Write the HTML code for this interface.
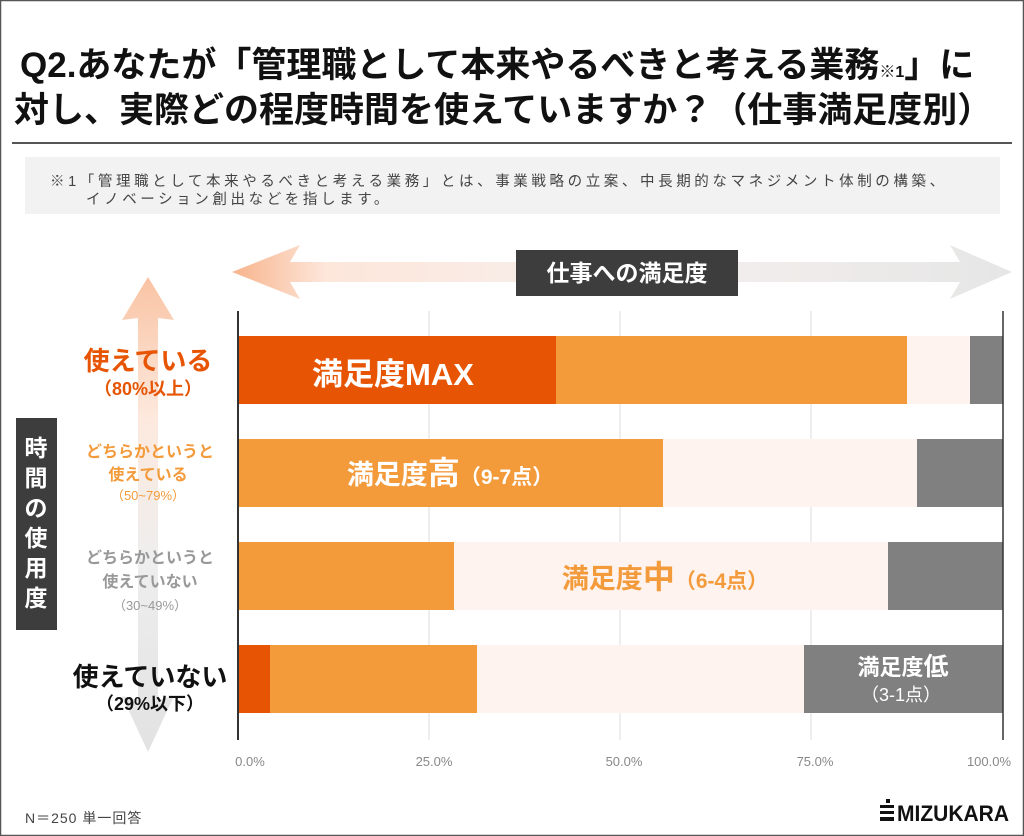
<!DOCTYPE html>
<html><head><meta charset="utf-8"><style>
html,body{margin:0;padding:0;background:#fff}
svg{display:block}
text{font-family:"Liberation Sans","Noto Sans CJK JP",sans-serif}
</style></head><body>
<svg width="1024" height="836" viewBox="0 0 1024 836" xmlns="http://www.w3.org/2000/svg">
<defs>
<linearGradient id="hg" x1="0" x2="1" y1="0" y2="0">
<stop offset="0" stop-color="#f7b48c"/><stop offset="0.12" stop-color="#fde6da"/><stop offset="0.5" stop-color="#f6f0ee"/><stop offset="1" stop-color="#e6e6e6"/></linearGradient>
<linearGradient id="vg" x1="0" x2="0" y1="0" y2="1">
<stop offset="0" stop-color="#f9c3a3"/><stop offset="0.3" stop-color="#fde9de"/><stop offset="0.6" stop-color="#eeeeee"/><stop offset="1" stop-color="#e2e2e2"/></linearGradient>
</defs>
<rect x="0.5" y="0.5" width="1023" height="835" fill="#fff" stroke="#555" stroke-width="1.5"/>
<text x="20" y="77" font-size="35" font-weight="bold" fill="#111">Q2.あなたが「管理職として本来やるべきと考える業務<tspan font-size="16">※1</tspan>」に</text>
<text x="14" y="122" font-size="35" font-weight="bold" fill="#111">対し、実際どの程度時間を使えていますか？（仕事満足度別）</text>
<rect x="12" y="142" width="1000" height="2" fill="#555"/>
<rect x="25" y="157" width="975" height="57" fill="#f2f2f2"/>
<text x="50" y="186" font-size="14.5" fill="#444" letter-spacing="3.6">※1「管理職として本来やるべきと考える業務」とは、事業戦略の立案、中長期的なマネジメント体制の構築、</text>
<text x="86" y="204" font-size="14.5" fill="#444" letter-spacing="3.6">イノベーション創出などを指します。</text>
<polygon points="232,272 300,245 290,262 960,262 950,245 1012,272 950,299 960,282 290,282 300,299" fill="url(#hg)"/>
<rect x="516" y="250" width="222" height="46" fill="#3d3d3d"/>
<text x="627" y="281" font-size="23" fill="#fff" text-anchor="middle" font-weight="bold">仕事への満足度</text>
<polygon points="148,277 174,320 158,318 158,700 174,696 148,752 122,696 138,700 138,318 122,320" fill="url(#vg)"/>
<rect x="16" y="418" width="41" height="212" fill="#3d3d3d"/>
<g font-size="23" fill="#fff" text-anchor="middle" font-weight="bold">
<text x="36" y="456">時</text><text x="36" y="486">間</text><text x="36" y="516">の</text><text x="36" y="546">使</text><text x="36" y="576">用</text><text x="36" y="606">度</text></g>
<text x="148" y="370" font-size="26" font-weight="bold" fill="#e75504" text-anchor="middle">使えている</text>
<text x="148" y="395" font-size="18" font-weight="bold" fill="#e75504" text-anchor="middle">（80%以上）</text>
<text x="150" y="457" font-size="16" font-weight="bold" fill="#f39a3b" text-anchor="middle">どちらかというと</text>
<text x="148" y="480" font-size="16" font-weight="bold" fill="#f39a3b" text-anchor="middle">使えている</text>
<text x="148" y="500" font-size="13" fill="#f39a3b" text-anchor="middle">（50~79%）</text>
<text x="150" y="563" font-size="16" font-weight="bold" fill="#999" text-anchor="middle">どちらかというと</text>
<text x="150" y="587" font-size="16" font-weight="bold" fill="#999" text-anchor="middle">使えていない</text>
<text x="150" y="610" font-size="13" fill="#999" text-anchor="middle">（30~49%）</text>
<text x="150" y="686" font-size="26" font-weight="bold" fill="#111" text-anchor="middle">使えていない</text>
<text x="150" y="710" font-size="18" font-weight="bold" fill="#111" text-anchor="middle">（29%以下）</text>
<g stroke="#ddd" stroke-width="1"><line x1="429" y1="311" x2="429" y2="740"/><line x1="620" y1="311" x2="620" y2="740"/><line x1="811" y1="311" x2="811" y2="740"/></g>
<rect x="238" y="336" width="318" height="68" fill="#e75504"/>
<rect x="556" y="336" width="351" height="68" fill="#f39a3b"/>
<rect x="907" y="336" width="63" height="68" fill="#fef3ee"/>
<rect x="970" y="336" width="33" height="68" fill="#808080"/>
<rect x="238" y="439" width="425" height="68" fill="#f39a3b"/>
<rect x="663" y="439" width="254" height="68" fill="#fef3ee"/>
<rect x="917" y="439" width="86" height="68" fill="#808080"/>
<rect x="238" y="542" width="216" height="68" fill="#f39a3b"/>
<rect x="454" y="542" width="434" height="68" fill="#fef3ee"/>
<rect x="888" y="542" width="115" height="68" fill="#808080"/>
<rect x="238" y="645" width="32" height="68" fill="#e75504"/>
<rect x="270" y="645" width="207" height="68" fill="#f39a3b"/>
<rect x="477" y="645" width="327" height="68" fill="#fef3ee"/>
<rect x="804" y="645" width="199" height="68" fill="#808080"/>
<line x1="238" y1="311" x2="238" y2="740" stroke="#333" stroke-width="2"/>
<line x1="1003" y1="311" x2="1003" y2="740" stroke="#333" stroke-width="1.5"/>
<text x="393" y="385" font-size="31" font-weight="bold" fill="#fff" text-anchor="middle">満足度MAX</text>
<text x="450" y="484" font-size="27" font-weight="bold" fill="#fff" text-anchor="middle">満足度<tspan font-size="32">高</tspan><tspan font-size="21">（9-7点）</tspan></text>
<text x="665" y="588" font-size="27" font-weight="bold" fill="#f39a3b" text-anchor="middle">満足度<tspan font-size="32">中</tspan><tspan font-size="21">（6-4点）</tspan></text>
<text x="903" y="675" font-size="22" font-weight="bold" fill="#fff" text-anchor="middle">満足度<tspan font-size="25">低</tspan></text>
<text x="901" y="701" font-size="18" fill="#fff" text-anchor="middle">（3-1点）</text>
<g font-size="13" fill="#888" text-anchor="middle">
<text x="250" y="766">0.0%</text><text x="434" y="766">25.0%</text><text x="624" y="766">50.0%</text><text x="815" y="766">75.0%</text><text x="989" y="766">100.0%</text></g>
<text x="25" y="823" font-size="14" fill="#444" letter-spacing="1">N＝250 単一回答</text>
<rect x="880" y="805" width="14" height="3" fill="#111"/><rect x="880" y="811" width="14" height="3" fill="#111"/><rect x="880" y="817" width="14" height="4" fill="#111"/><rect x="886" y="799" width="4" height="4" fill="#111"/>
<text x="897" y="821" font-size="22" font-weight="bold" fill="#111" textLength="112" lengthAdjust="spacingAndGlyphs">MIZUKARA</text>
</svg>
</body></html>
